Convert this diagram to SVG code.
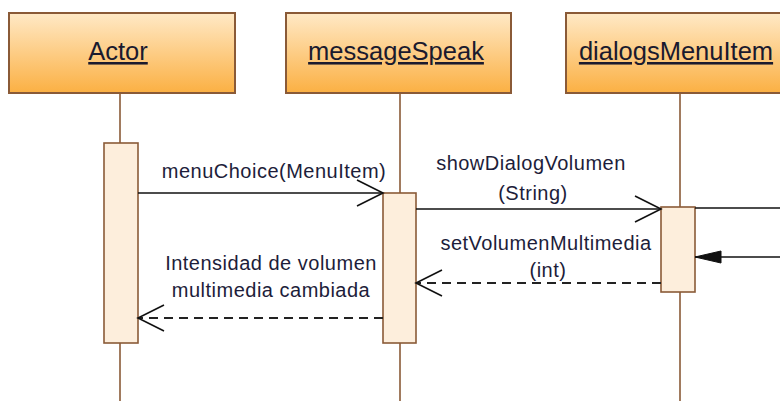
<svg xmlns="http://www.w3.org/2000/svg" width="780" height="401" viewBox="0 0 780 401">
  <defs>
    <linearGradient id="headFill" x1="0" y1="0" x2="0" y2="1">
      <stop offset="0" stop-color="#FFE9C6"/>
      <stop offset="1" stop-color="#FBB043"/>
    </linearGradient>
    <marker id="open" viewBox="0 0 30 30" refX="28" refY="15" markerWidth="30" markerHeight="30" markerUnits="userSpaceOnUse" orient="auto">
      <path d="M2,2 L28,15 L2,28" fill="none" stroke="#111" stroke-width="1.6"/>
    </marker>
    <marker id="filled" viewBox="0 0 30 16" refX="28" refY="8" markerWidth="30" markerHeight="16" markerUnits="userSpaceOnUse" orient="auto">
      <path d="M2,2 L28,8 L2,14 Z" fill="#111" stroke="#111" stroke-width="1"/>
    </marker>
  </defs>
  <style>
    .head { fill: url(#headFill); stroke: #8A5A37; stroke-width: 2; }
    .title { font-family: "Liberation Sans", Arial, sans-serif; font-size: 25.5px; fill: #1a1a2e; text-anchor: middle; text-decoration: underline; }
    .life { stroke: #8A5A37; stroke-width: 1.6; fill: none; }
    .act { fill: #FDEEDC; stroke: #8A5A37; stroke-width: 1.6; }
    .msg { stroke: #111; stroke-width: 1.6; fill: none; }
    .ret { stroke: #222; stroke-width: 1.8; fill: none; stroke-dasharray: 9 6; }
    .lbl { font-family: "Liberation Sans", Arial, sans-serif; font-size: 20px; letter-spacing: 0.5px; fill: #1d1d3a; text-anchor: middle; }
  </style>

  <rect width="780" height="401" fill="#fff"/>

  <!-- lifelines -->
  <g id="actor">
    <line class="life" x1="120" y1="93" x2="120" y2="401"/>
    <rect class="head" x="9" y="13" width="226" height="80"/>
    <text class="title" x="118" y="60">Actor</text>
    <rect class="act" x="104" y="143" width="34" height="200"/>
  </g>

  <g id="messageSpeak">
    <line class="life" x1="400" y1="93" x2="400" y2="401"/>
    <rect class="head" x="286" y="13" width="225" height="80"/>
    <text class="title" x="396" y="60">messageSpeak</text>
    <rect class="act" x="383" y="193" width="33" height="150"/>
  </g>

  <g id="dialogsMenuItem">
    <line class="life" x1="680" y1="93" x2="680" y2="401"/>
    <rect class="head" x="566" y="13" width="228" height="80"/>
    <text class="title" x="676" y="60">dialogsMenuItem</text>
    <rect class="act" x="661" y="207" width="34" height="85"/>
  </g>

  <!-- messages -->
  <g id="connectors">
    <line class="msg" x1="138" y1="193" x2="383" y2="193" marker-end="url(#open)"/>
    <text class="lbl" x="274" y="178">menuChoice(MenuItem)</text>

    <line class="msg" x1="416" y1="209" x2="661" y2="209" marker-end="url(#open)"/>
    <text class="lbl" x="531" y="170">showDialogVolumen</text>
    <text class="lbl" x="533" y="200">(String)</text>

    <line class="msg" x1="695" y1="208" x2="780" y2="208"/>

    <line class="msg" x1="780" y1="257" x2="695" y2="257" marker-end="url(#filled)"/>

    <line class="ret" x1="661" y1="283" x2="416" y2="283" marker-end="url(#open)"/>
    <text class="lbl" x="546" y="250">setVolumenMultimedia</text>
    <text class="lbl" x="548" y="277">(int)</text>

    <line class="ret" x1="383" y1="318" x2="138" y2="318" marker-end="url(#open)"/>
    <text class="lbl" x="271" y="270">Intensidad de volumen</text>
    <text class="lbl" x="271" y="297">multimedia cambiada</text>
  </g>
</svg>
